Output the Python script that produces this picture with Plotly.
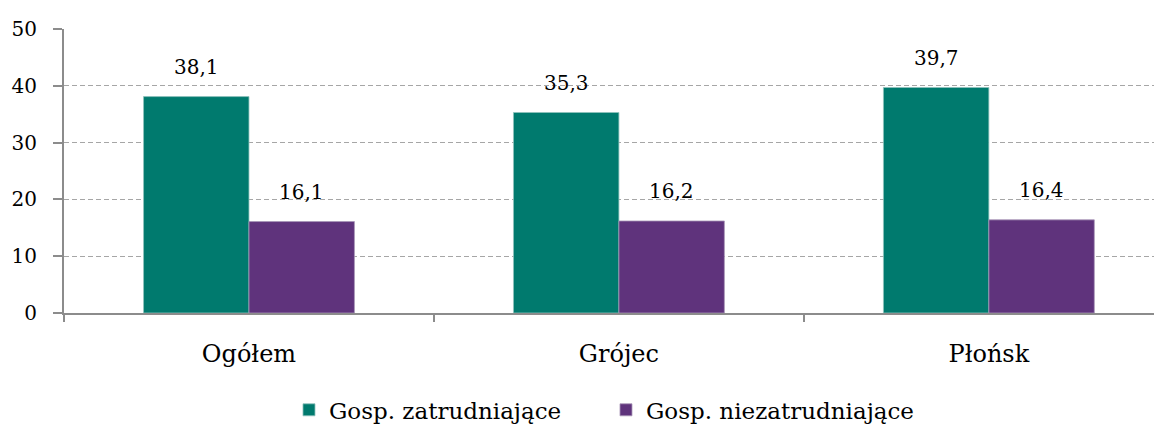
import plotly.graph_objects as go

categories = ["Ogółem", "Grójec", "Płońsk"]
zatrudniajace = [38.1, 35.3, 39.7]
niezatrudniajace = [16.1, 16.2, 16.4]
series_names = ["Gosp. zatrudniające", "Gosp. niezatrudniające"]
y_ticks = [0, 10, 20, 30, 40, 50]

FONT = "DejaVu Serif"
fmt = lambda v: f"{v:.1f}".replace(".", ",")

# page body has an 8px default margin, so the figure is sized to fit the window
W, H = 1154, 416
BARGAP = 0.43
X_RANGE = [-0.5, 2.468]
L, R = 56, 0
unit_px = (W - L - R) / (X_RANGE[1] - X_RANGE[0])
half_bar = (1 - BARGAP) / 2 * unit_px / 2

fig = go.Figure()
colors = ["#007A6E", "#5F337C"]
edges = ["#8fc3bc", "#a895b8"]
for i, (name, vals) in enumerate(zip(series_names, [zatrudniajace, niezatrudniajace])):
    fig.add_trace(go.Bar(
        x=categories, y=vals, name=name,
        marker=dict(color=colors[i], line=dict(color=edges[i], width=0.8)),
    ))
    for c, v in zip(categories, vals):
        fig.add_annotation(
            x=c, y=v, text=fmt(v), showarrow=False,
            xshift=(-half_bar if i == 0 else half_bar), yshift=16,
            yanchor="bottom", xanchor="center",
            font=dict(family=FONT, size=20, color="black"),
        )

fig.update_layout(
    width=W, height=H,
    margin=dict(l=L, r=R, t=21, b=111, autoexpand=False),
    paper_bgcolor="white", plot_bgcolor="white",
    barmode="group", bargap=BARGAP, bargroupgap=0,
    font=dict(family=FONT, size=23, color="black"),
    legend=dict(orientation="h", xref="container", yref="container",
                x=0.2435, xanchor="left", y=0.034, yanchor="middle",
                font=dict(family=FONT, size=23), itemwidth=30, traceorder="normal",
                entrywidth=272, entrywidthmode="pixels"),
)
fig.update_xaxes(
    range=X_RANGE, showline=True, linecolor="#8c8c8c", linewidth=2,
    ticks="outside", tickson="boundaries", ticklen=7, tickcolor="#8c8c8c", tickwidth=1.5,
    tickfont=dict(family=FONT, size=24), showgrid=False, automargin=False,
    ticklabelstandoff=18,
)
fig.update_yaxes(
    range=[0, 50], tickvals=y_ticks, showline=True, linecolor="#8c8c8c", linewidth=2,
    ticks="outside", ticklen=9, tickcolor="#8c8c8c", tickwidth=1.5,
    showgrid=True, gridcolor="#a6a6a6", griddash="5px,3px", gridwidth=1,
    tickfont=dict(family=FONT, size=20), zeroline=False, automargin=False,
    ticklabelstandoff=12,
)

fig.write_html("out.html")
